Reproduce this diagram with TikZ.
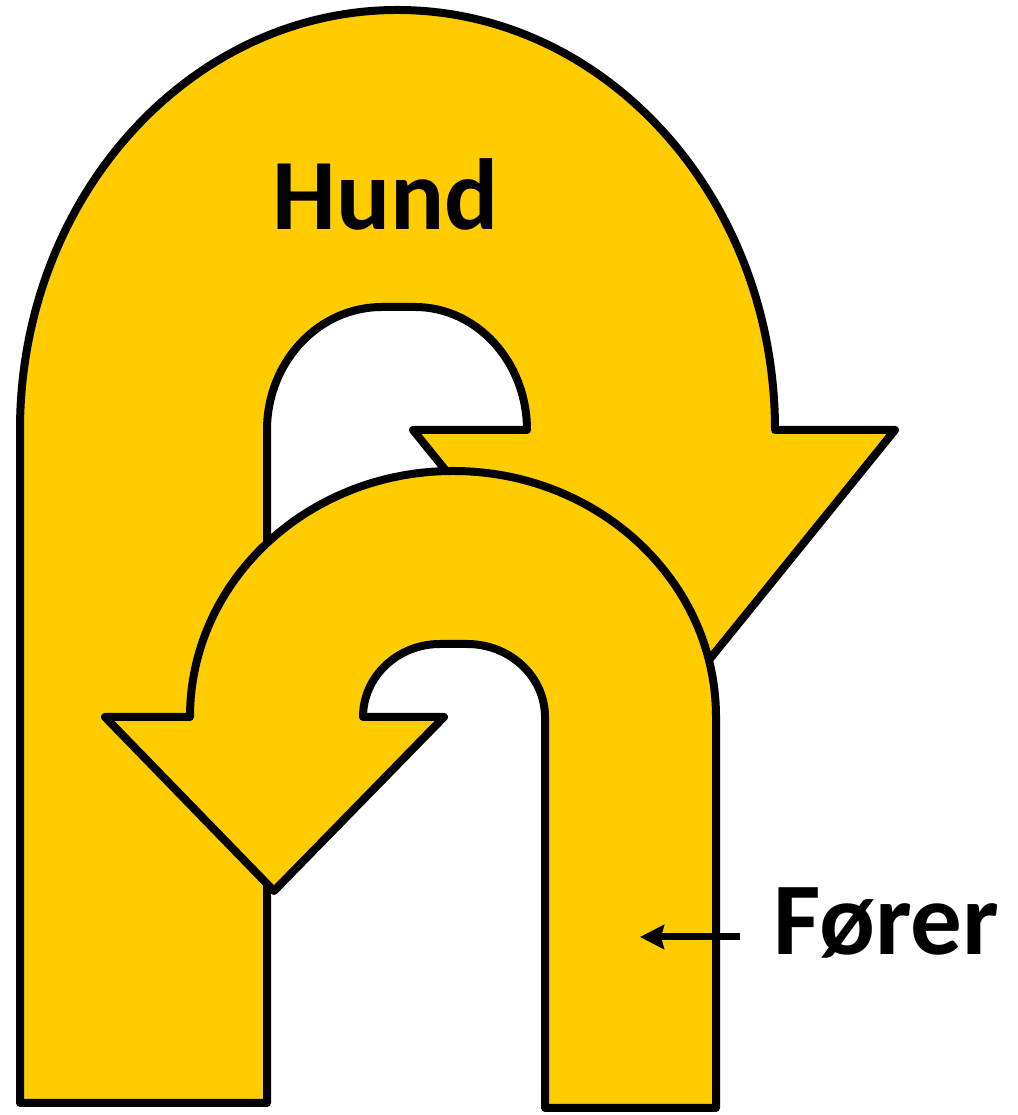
\documentclass[tikz,border=0pt]{standalone}
\usepackage{fontspec}
\setmainfont{Carlito}
\usetikzlibrary{arrows.meta}
\definecolor{uyellow}{HTML}{FFCC00}
\tikzset{
  uturn/.style={fill=uyellow, draw=black, line width=8pt, line join=round},
  lbl/.style={font=\bfseries\fontsize{103}{120}\selectfont, inner sep=0pt},
  pointer/.style={draw=black, line width=7pt, -{Stealth[length=24pt,width=24pt,inset=3pt]}}
}
\begin{document}
\begin{tikzpicture}[x=1pt,y=1pt]
\useasboundingbox (0,0) rectangle (1017,1115);
% Hund U-turn arrow
\path[uturn] (20,12) -- (20,685)
  arc[start angle=180, end angle=0, x radius=377.5, y radius=420]
  -- (895,685) -- (654,387) -- (413,685) -- (527,685)
  arc[start angle=0, end angle=90, x radius=112, y radius=123]
  -- (382,808)
  arc[start angle=90, end angle=180, x radius=115, y radius=123]
  -- (267,12) -- cycle;
% Forer U-turn arrow
\path[uturn] (545,7) -- (545,398)
  arc[start angle=0, end angle=90, x radius=78, y radius=73]
  -- (440,471)
  arc[start angle=90, end angle=180, x radius=77, y radius=73]
  -- (444,398) -- (274,224) -- (105,398) -- (190,398)
  arc[start angle=180, end angle=0, x radius=263, y radius=246]
  -- (716,7) -- cycle;
% labels
\node[lbl, anchor=base, font=\bfseries\fontsize{101}{120}\selectfont] (hund) at (385.5,885) {Hund};
\node[lbl, anchor=base west] (forer) at (773,160) {Fører};
\coordinate (fstart) at (740,178);
\coordinate (ftip) at (640,178);
\draw[pointer] (fstart) -- (ftip);
\end{tikzpicture}
\end{document}
